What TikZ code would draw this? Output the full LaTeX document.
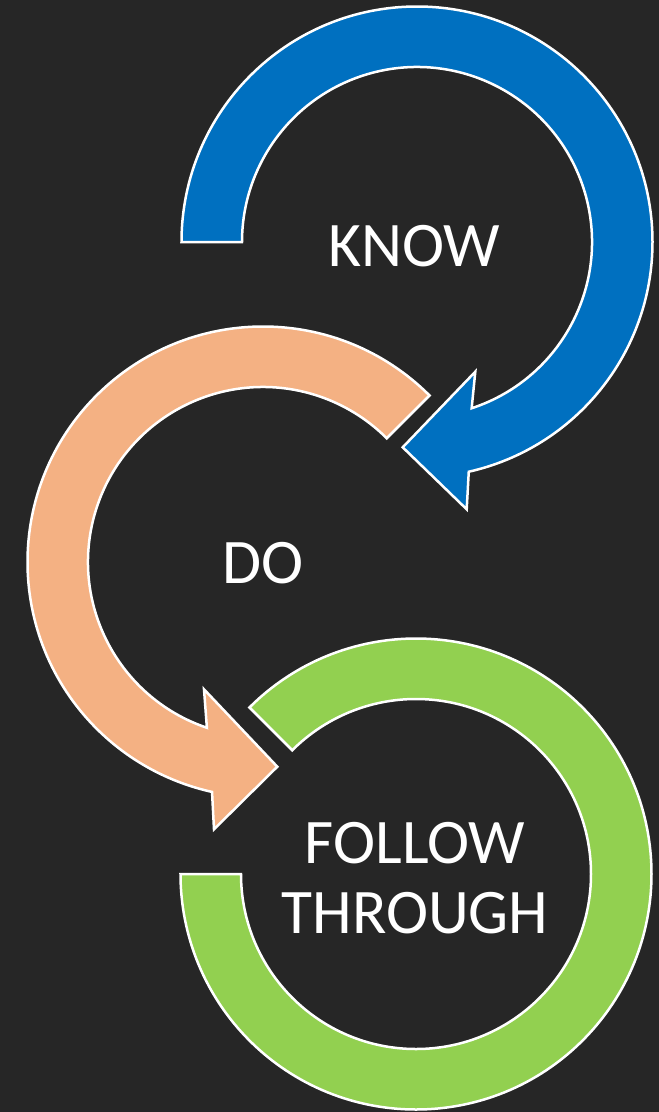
\documentclass[tikz,border=0pt]{standalone}
\usepackage{fontspec}
\setmainfont{Carlito}
\usetikzlibrary{calc}
\definecolor{bg}{HTML}{262626}
\definecolor{cblue}{HTML}{0070C0}
\definecolor{corange}{HTML}{F4B183}
\definecolor{cgreen}{HTML}{92D050}
\begin{document}
\begin{tikzpicture}[x=1pt,y=-1pt,
  band/.style={draw=white, line width=2.5pt, line join=miter},
  lbl/.style={text=white, font=\fontsize{63.5}{70}\selectfont, align=center, inner sep=0pt}]
\fill[bg] (0,0) rectangle (659,1112);
\useasboundingbox (0,0) rectangle (659,1112);
\coordinate (B) at (417,242);
\coordinate (O) at (263,562);
\coordinate (G) at (416,874);
% blue arrow
\filldraw[band, fill=cblue] ($(B)+(180:235.5)$) arc[start angle=180, end angle=437.3, radius=235.5]
  -- (466.7,509.3) -- (402.7,447.3) -- (475.3,371.7)
  -- ($(B)+(431.8:175)$) arc[start angle=431.8, end angle=180, radius=175] -- cycle;
% orange arrow
\filldraw[band, fill=corange] ($(O)+(315:235.5)$) arc[start angle=315, end angle=102.5, radius=235.5]
  -- (214,829.3) -- (277.3,766.7) -- (204,689.3)
  -- ($(O)+(108.7:175)$) arc[start angle=108.7, end angle=315, radius=175] -- cycle;
% green arc
\filldraw[band, fill=cgreen] ($(G)+(225:235.5)$) arc[start angle=225, end angle=540, radius=235.5]
  -- ($(G)+(180:175)$) arc[start angle=180, end angle=-135, radius=175] -- cycle;
\node[lbl] (know) at (414,246) {KNOW};
\node[lbl] (do) at (263,563) {DO};
\node[lbl] (ft) at (415,878) {FOLLOW\\THROUGH};
\end{tikzpicture}
\end{document}
